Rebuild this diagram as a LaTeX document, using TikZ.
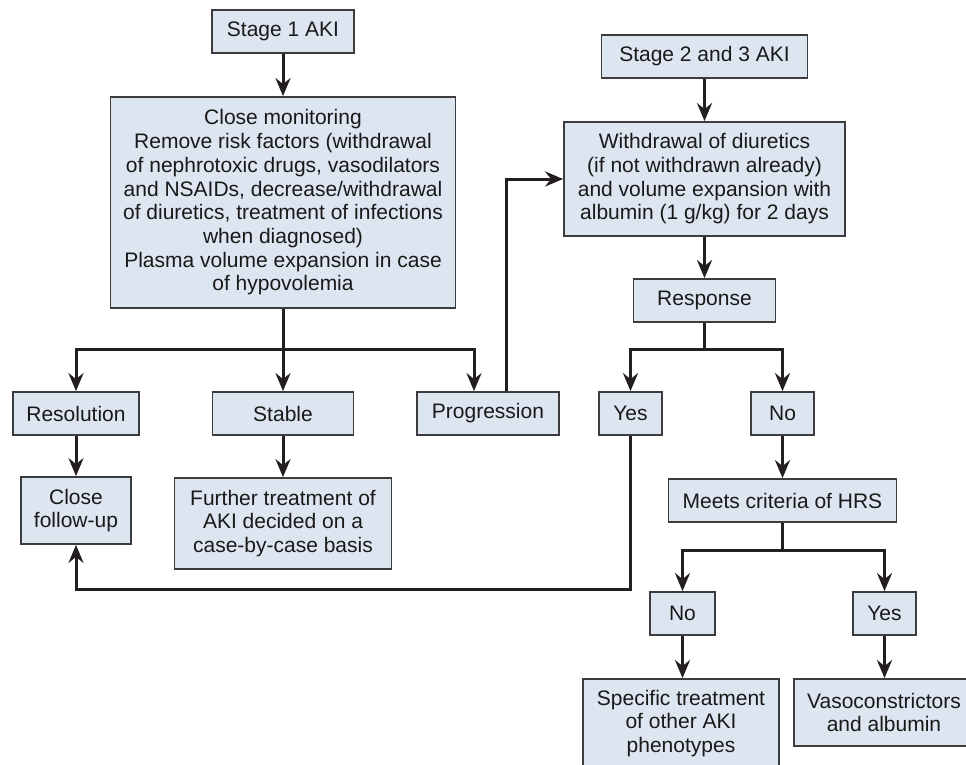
\documentclass[tikz,border=0pt]{standalone}
\usepackage{fontspec}
\setmainfont{Liberation Sans}
\usetikzlibrary{arrows.meta, positioning}
\definecolor{boxFill}{HTML}{DDE5F1}
\definecolor{boxEdge}{HTML}{3C3C3C}
\definecolor{lineDark}{HTML}{231F20}
\tikzset{
  arrowK/.style={-{Stealth[length=18pt, width=15pt, inset=6pt]}, lineDark, line width=3pt},
  lineK/.style={lineDark, line width=3pt},
  boxK/.style={rectangle, draw=boxEdge, fill=boxFill, line width=1.8pt,
               align=center, inner sep=0pt, text=black!90,
               font=\fontsize{21}{23.7}\selectfont},
}

\begin{document}
\begin{tikzpicture}[x=1pt, y=-1pt]
    \useasboundingbox (0,0) rectangle (966,764);
    \clip (0,0) rectangle (966,764);
    % left column: stage 1
    \node[boxK, minimum width=142pt, minimum height=43pt] (s1) at (283,31.5) {Stage 1 AKI};
    \node[boxK, minimum width=345pt, minimum height=211pt] (cm) at (283,202.5)
      {Close monitoring\\Remove risk factors (withdrawal\\of nephrotoxic drugs, vasodilators\\
       and NSAIDs, decrease/withdrawal\\of diuretics, treatment of infections\\
       when diagnosed)\\Plasma volume expansion in case\\of hypovolemia};
    \node[boxK, minimum width=126pt, minimum height=43pt] (res) at (76,413.5) {Resolution};
    \node[boxK, minimum width=141pt, minimum height=43pt] (stab) at (283,413.5) {Stable};
    \node[boxK, minimum width=142pt, minimum height=43pt] (prog) at (488,413.5) {Progression};
    \node[boxK, minimum width=110pt, minimum height=67pt] (fu) at (76,510.5) {Close\\follow-up};
    \node[boxK, minimum width=217pt, minimum height=91pt] (ft) at (283,523.5)
      {Further treatment of\\AKI decided on a\\case-by-case basis};
    % right column: stage 2 and 3
    \node[boxK, minimum width=206pt, minimum height=43pt] (s23) at (704.5,56.5) {Stage 2 and 3 AKI};
    \node[boxK, minimum width=281pt, minimum height=114pt] (wd) at (704.5,179)
      {Withdrawal of diuretics\\(if not withdrawn already)\\and volume expansion with\\albumin (1 g/kg) for 2 days};
    \node[boxK, minimum width=142pt, minimum height=43pt] (resp) at (704.5,300.5) {Response};
    \node[boxK, minimum width=63pt, minimum height=43pt] (ry) at (630.5,413.5) {Yes};
    \node[boxK, minimum width=63pt, minimum height=43pt] (rn) at (782.5,413.5) {No};
    \node[boxK, minimum width=228pt, minimum height=43pt] (hrs) at (782.5,500.5) {Meets criteria of HRS};
    \node[boxK, minimum width=65pt, minimum height=43pt] (hn) at (682.5,613.5) {No};
    \node[boxK, minimum width=63pt, minimum height=43pt] (hy) at (884.5,613.5) {Yes};
    \node[boxK, minimum width=196pt, minimum height=89pt] (spec) at (681,723.5)
      {Specific treatment\\of other AKI\\phenotypes};
    \node[boxK, minimum width=180pt, minimum height=67pt] (vaso) at (884,712.5)
      {Vasoconstrictors\\and albumin};
    % connectors
    \coordinate (cmfork) at (283,349);
    \coordinate (rfork) at (704.5,349);
    \coordinate (hfork) at (782.5,550);
    \coordinate (back) at (630.5,589);
    \draw[arrowK] (s1) -- (cm);
    \draw[lineK] (cm.south) -- (cmfork);
    \draw[arrowK] (cmfork) -| (res.north);
    \draw[arrowK] (cmfork) -- (stab.north);
    \draw[arrowK] (cmfork) -| ([xshift=-14pt]prog.north);
    \draw[arrowK] ([xshift=18pt]prog.north) |- (wd.west);
    \draw[arrowK] (res) -- (fu);
    \draw[arrowK] (stab) -- (ft);
    \draw[arrowK] (s23) -- (wd);
    \draw[arrowK] (wd) -- (resp);
    \draw[lineK] (resp.south) -- (rfork);
    \draw[arrowK] (rfork) -| (ry.north);
    \draw[arrowK] (rfork) -| (rn.north);
    \draw[arrowK] (ry.south) -- (back) -| (fu.south);
    \draw[arrowK] (rn) -- (hrs);
    \draw[lineK] (hrs.south) -- (hfork);
    \draw[arrowK] (hfork) -| (hn.north);
    \draw[arrowK] (hfork) -| (hy.north);
    \draw[arrowK] (hn.south) -- (hn.south |- spec.north);
    \draw[arrowK] (hy.south) -- (hy.south |- vaso.north);
\end{tikzpicture}
\end{document}
